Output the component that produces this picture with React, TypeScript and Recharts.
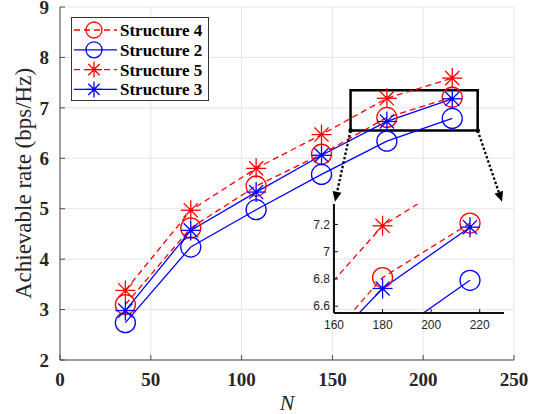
import React from 'react';
import {
  LineChart,
  Line,
  XAxis,
  YAxis,
  CartesianGrid,
  ReferenceArea,
  ReferenceLine,
  Legend,
} from 'recharts';

// ---------------- data ----------------
const nValues = [36, 72, 108, 144, 180, 216];
const structure4 = [3.1, 4.62, 5.45, 6.08, 6.81, 7.21];
const structure2 = [2.74, 4.24, 4.98, 5.68, 6.34, 6.79];
const structure5 = [3.38, 4.97, 5.8, 6.47, 7.19, 7.59];
const structure3 = [2.98, 4.57, 5.33, 6.06, 6.73, 7.18];

const xTicks = [0, 50, 100, 150, 200, 250];
const yTicks = [2, 3, 4, 5, 6, 7, 8, 9];
const insetXTicks = [160, 180, 200, 220];
const insetYTicks = [6.6, 6.8, 7, 7.2];
const zoomX = [160, 230];
const zoomY = [6.55, 7.35];
// arrow end points (main-axes data units) at the inset's top corners
const arrowLeftEnd = { x: 151.4, y: 5.14 };
const arrowRightEnd = { x: 243.4, y: 5.14 };

// ---------------- styles ----------------
const RED = '#ff0000';
const BLUE = '#0000ff';
const SERIF = "'Liberation Serif', 'DejaVu Serif', 'Times New Roman', Times, serif";
const SANS = "'Liberation Sans', Arial, Helvetica, sans-serif";
const AXIS = '#4a4a4a';

type Series = {
  key: string;
  name: string;
  color: string;
  dashed: boolean;
  marker: 'circle' | 'star';
  values: number[];
};

const series: Series[] = [
  { key: 's4', name: 'Structure 4', color: RED, dashed: true, marker: 'circle', values: structure4 },
  { key: 's2', name: 'Structure 2', color: BLUE, dashed: false, marker: 'circle', values: structure2 },
  { key: 's5', name: 'Structure 5', color: RED, dashed: true, marker: 'star', values: structure5 },
  { key: 's3', name: 'Structure 3', color: BLUE, dashed: false, marker: 'star', values: structure3 },
];

const data = nValues.map((n, i) => {
  const row: any = { n };
  series.forEach((s) => {
    row[s.key] = s.values[i];
  });
  return row;
});

function renderMarker(kind: 'circle' | 'star', color: string, cx: number, cy: number, r: number, key?: string) {
  if (kind === 'circle') {
    return <circle key={key} cx={cx} cy={cy} r={r} fill="none" stroke={color} strokeWidth={1.3} />;
  }
  const d = r * Math.SQRT1_2;
  return (
    <g key={key} stroke={color} strokeWidth={1.3}>
      <line x1={cx - r} y1={cy} x2={cx + r} y2={cy} />
      <line x1={cx} y1={cy - r} x2={cx} y2={cy + r} />
      <line x1={cx - d} y1={cy - d} x2={cx + d} y2={cy + d} />
      <line x1={cx - d} y1={cy + d} x2={cx + d} y2={cy - d} />
      <circle cx={cx} cy={cy} r={2} fill={color} stroke="none" />
    </g>
  );
}

const makeDot = (s: Series, r: number) => (props: any) => {
  const { cx, cy, index } = props;
  const key = `${s.key}-${index}`;
  if (cx == null || cy == null || isNaN(cx) || isNaN(cy)) return <g key={key} />;
  return renderMarker(s.marker, s.color, cx, cy, r, key);
};

const arrowShape = (p: any) => {
  const { x1, y1, x2, y2 } = p;
  const ang = Math.atan2(y2 - y1, x2 - x1);
  const L = 10;
  const W = 4.5;
  const bx = x2 - L * Math.cos(ang);
  const by = y2 - L * Math.sin(ang);
  const px = -Math.sin(ang) * W;
  const py = Math.cos(ang) * W;
  return (
    <g>
      <line x1={x1} y1={y1} x2={bx} y2={by} stroke="#000" strokeWidth={2.3} strokeDasharray="2.5 2" />
      <polygon points={`${x2},${y2} ${bx + px},${by + py} ${bx - px},${by - py}`} fill="#000" />
      <circle cx={x1} cy={y1} r={2.2} fill="#000" />
    </g>
  );
};

const renderLegend = () => (
  <svg width={138} height={84} style={{ display: 'block' }}>
    <rect x={0.5} y={0.5} width={137} height={83} fill="#fff" stroke="#333" strokeWidth={1} />
    {series.map((s, i) => {
      const cy = 13 + i * 19.8;
      return (
        <g key={s.key}>
          <line
            x1={3}
            y1={cy}
            x2={46}
            y2={cy}
            stroke={s.color}
            strokeWidth={1.3}
            strokeDasharray={s.dashed ? '6 4' : undefined}
          />
          {renderMarker(s.marker, s.color, 23, cy, 8)}
          <text
            x={49}
            y={cy + 6}
            style={{ fontFamily: SERIF, fontWeight: 'bold', fontSize: 17 }}
            fontFamily={SERIF}
            fontWeight="bold"
            fontSize={17}
            fill="#000"
          >
            {s.name}
          </text>
        </g>
      );
    })}
  </svg>
);

const yLabel = (props: any) => {
  const vb = props.viewBox || {};
  const x = (vb.x ?? 10) + 21;
  const y = (vb.y ?? 7) + (vb.height ?? 353) / 2;
  return (
    <text
      x={x}
      y={y}
      transform={`rotate(-90 ${x} ${y})`}
      textAnchor="middle"
      style={{ fontFamily: SERIF, fontSize: 23 }}
      fontFamily={SERIF}
      fontSize={23}
      fill="#262626"
    >
      Achievable rate (bps/Hz)
    </text>
  );
};

const xLabel = (props: any) => {
  const vb = props.viewBox || {};
  const x = (vb.x ?? 60) + (vb.width ?? 454) / 2;
  const y = (vb.y ?? 360) + 50;
  return (
    <text
      x={x}
      y={y}
      textAnchor="middle"
      style={{ fontFamily: SERIF, fontStyle: 'italic', fontSize: 22 }}
      fontFamily={SERIF}
      fontStyle="italic"
      fontSize={22}
      fill="#262626"
    >
      N
    </text>
  );
};

const mainTick = {
  fill: '#262626',
  fontFamily: SERIF,
  fontWeight: 'bold',
  fontSize: 19,
  style: { fontFamily: SERIF, fontWeight: 'bold', fontSize: 19 },
} as any;
const insetTick = {
  fill: '#262626',
  fontFamily: SANS,
  fontSize: 12,
  style: { fontFamily: SANS, fontSize: 12 },
} as any;

export default function App() {
  return (
    <div
      style={{
        position: 'absolute',
        left: 0,
        top: 0,
        width: 541,
        height: 414,
        background: '#fff',
        fontFamily: SERIF,
      }}
    >
      <LineChart width={541} height={414} data={data} margin={{ top: 7, right: 27, left: 10, bottom: 24 }}>
        <CartesianGrid stroke="#e6e6e6" strokeWidth={1} />
        <XAxis
          dataKey="n"
          type="number"
          domain={[0, 250]}
          ticks={xTicks}
          interval={0}
          height={30}
          tickSize={-5}
          tickMargin={18}
          axisLine={{ stroke: AXIS }}
          tickLine={{ stroke: AXIS }}
          tick={mainTick}
          label={{ content: xLabel }}
        />
        <YAxis
          type="number"
          domain={[2, 9]}
          ticks={yTicks}
          interval={0}
          width={50}
          tickSize={-5}
          tickMargin={16}
          axisLine={{ stroke: AXIS }}
          tickLine={{ stroke: AXIS }}
          tick={mainTick}
          label={{ content: yLabel }}
        />
        <XAxis
          xAxisId="top"
          orientation="top"
          dataKey="n"
          type="number"
          domain={[0, 250]}
          ticks={xTicks}
          interval={0}
          height={0}
          tickSize={-5}
          tick={false}
          axisLine={{ stroke: AXIS }}
          tickLine={{ stroke: AXIS }}
        />
        <YAxis
          yAxisId="right"
          orientation="right"
          type="number"
          domain={[2, 9]}
          ticks={yTicks}
          interval={0}
          width={0}
          tickSize={-5}
          tick={false}
          axisLine={{ stroke: AXIS }}
          tickLine={{ stroke: AXIS }}
        />
        {series.map((s) => (
          <Line
            key={s.key}
            dataKey={s.key}
            name={s.name}
            stroke={s.color}
            strokeWidth={1.3}
            strokeDasharray={s.dashed ? '6 4' : undefined}
            dot={makeDot(s, 10)}
            activeDot={false}
            isAnimationActive={false}
          />
        ))}
        <ReferenceArea
          x1={zoomX[0]}
          x2={zoomX[1]}
          y1={zoomY[0]}
          y2={zoomY[1]}
          fill="none"
          fillOpacity={0}
          stroke="#000"
          strokeWidth={2.5}
          ifOverflow="visible"
        />
        <ReferenceLine
          segment={[{ x: zoomX[0], y: zoomY[0] }, arrowLeftEnd]}
          shape={arrowShape}
          ifOverflow="visible"
        />
        <ReferenceLine
          segment={[{ x: zoomX[1], y: zoomY[0] }, arrowRightEnd]}
          shape={arrowShape}
          ifOverflow="visible"
        />
        <Legend
          layout="vertical"
          align="center"
          verticalAlign="middle"
          wrapperStyle={{ left: 71, top: 17, width: 138, height: 84 }}
          content={renderLegend}
        />
      </LineChart>

      <div style={{ position: 'absolute', left: 290, top: 195, width: 220, height: 140 }}>
        <LineChart width={220} height={140} data={data} margin={{ top: 9, right: 6, left: 4, bottom: 0 }}>
          <XAxis
            dataKey="n"
            type="number"
            domain={zoomX}
            ticks={insetXTicks}
            interval={0}
            allowDataOverflow
            height={22}
            tickSize={-4}
            tickMargin={11}
            axisLine={{ stroke: '#111', strokeWidth: 2 }}
            tickLine={{ stroke: '#111' }}
            tick={insetTick}
          />
          <YAxis
            type="number"
            domain={zoomY}
            ticks={insetYTicks}
            interval={0}
            allowDataOverflow
            width={40}
            tickSize={-4}
            tickMargin={8}
            axisLine={{ stroke: '#111', strokeWidth: 2 }}
            tickLine={{ stroke: '#111' }}
            tick={insetTick}
          />
          <XAxis
            xAxisId="top"
            orientation="top"
            dataKey="n"
            type="number"
            domain={zoomX}
            ticks={insetXTicks}
            interval={0}
            allowDataOverflow
            height={0}
            tickSize={-4}
            tick={false}
            axisLine={{ stroke: '#111', strokeWidth: 2 }}
            tickLine={{ stroke: '#111' }}
          />
          <YAxis
            yAxisId="right"
            orientation="right"
            type="number"
            domain={zoomY}
            ticks={insetYTicks}
            interval={0}
            allowDataOverflow
            width={0}
            tickSize={-4}
            tick={false}
            axisLine={{ stroke: '#111', strokeWidth: 2 }}
            tickLine={{ stroke: '#111' }}
          />
          {series.map((s) => (
            <Line
              key={s.key}
              dataKey={s.key}
              stroke={s.color}
              strokeWidth={1.3}
              strokeDasharray={s.dashed ? '6 4' : undefined}
              dot={makeDot(s, 10)}
              activeDot={false}
              isAnimationActive={false}
            />
          ))}
        </LineChart>
      </div>
    </div>
  );
}
